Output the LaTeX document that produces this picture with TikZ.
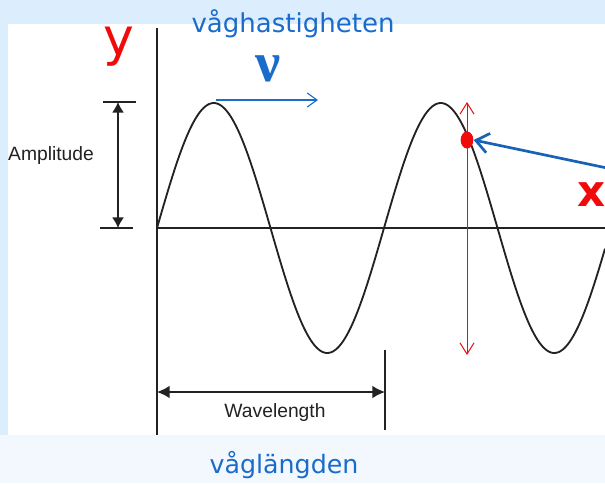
\documentclass[tikz,border=0pt]{standalone}
\usepackage{fontspec}
\setsansfont{Liberation Sans}
\newfontfamily\handfont{DejaVu Sans}
\newfontfamily\greekfont{Liberation Serif}
\usetikzlibrary{arrows.meta, shapes.geometric, calc}
\definecolor{skyblue}{HTML}{DCEEFD}
\definecolor{paleblue}{HTML}{F2F8FE}
\definecolor{penblue}{HTML}{1A6CCB}
\definecolor{penred}{HTML}{F00A0A}
\definecolor{inkgrey}{HTML}{222222}

\begin{document}
\begin{tikzpicture}[x=0.025cm, y=-0.025cm]
        \useasboundingbox (0,0) rectangle (605,483);
        \clip (0,0) rectangle (605,483);
        % slide background and white panel
        \fill[skyblue] (0,0) rectangle (605,483);
        \fill[paleblue] (0,435) rectangle (605,483);
        \fill[white] (8,24) rectangle (605,435);
        % axes
        \draw[color=inkgrey, line width=1.3pt] (157,28) -- (157,435);
        \draw[color=inkgrey, line width=1.5pt] (157,228) -- (605,228);
        % the wave
        \draw[color=inkgrey, line width=1.3pt] plot[domain=157:605, samples=240, smooth]
          (\x, {228-125*sin((\x-157)/227*360)});
        % amplitude marker
        \coordinate (amptop) at (118,102);
        \coordinate (ampbot) at (118,228);
        \draw[color=inkgrey, line width=1pt] (103,102) -- (136,102);
        \draw[color=inkgrey, line width=1pt] (100,228) -- (133,228);
        \draw[{Latex[length=7.5pt, width=8.5pt]}-{Latex[length=7.5pt, width=8.5pt]}, color=inkgrey, line width=1.1pt]
          (amptop) -- (ampbot);
        \node[color=inkgrey, font=\sffamily\fontsize{13.7}{15}\selectfont] (amp) at (51,156) {Amplitude};
        % wavelength marker
        \coordinate (wlleft) at (157,392);
        \coordinate (wlright) at (385,392);
        \draw[color=inkgrey, line width=1.3pt] (385,350) -- (385,430);
        \draw[{Latex[length=9pt, width=9pt]}-{Latex[length=9pt, width=9pt]}, color=inkgrey, line width=1.1pt]
          (wlleft) -- (wlright);
        \node[color=inkgrey, font=\sffamily\fontsize{13.7}{15}\selectfont] (wl) at (275,413) {Wavelength};
        % labels in blue and red
        \node[color=penblue, font=\handfont\fontsize{18.5}{20}\selectfont] (speed) at (293,24) {våghastigheten};
        \node[color=penblue, font=\handfont\fontsize{18}{20}\selectfont] (length) at (284,465) {våglängden};
        \node[color=penblue, inner sep=0pt, font=\greekfont\bfseries\fontsize{40}{40}\selectfont] (nu) at (268,69) {ν};
        \coordinate (vstart) at (216,100);
        \coordinate (vend) at (318,100);
        \draw[-{Straight Barb[length=7pt, width=10pt]}, color=penblue, line width=0.8pt] (vstart) -- (vend);
        \node[color=penred, inner sep=0pt, font=\handfont\fontsize{37}{37}\selectfont] (ylab) at (119,47) {y};
        \node[color=penred, inner sep=0pt, font=\handfont\bfseries\fontsize{31}{31}\selectfont] (xlab) at (592,195) {x};
        % moving point on the wave
        \coordinate (swtop) at (467,102);
        \coordinate (swbot) at (467,355);
        \draw[{Straight Barb[length=8pt, width=10pt]}-{Straight Barb[length=8pt, width=10pt]}, color=penred, line width=0.7pt]
          (swtop) -- (swbot);
        \node[fill=penred, ellipse, minimum width=0.3175cm, minimum height=0.425cm, inner sep=0pt] (dot) at (467,140) {};
        \coordinate (pointer) at (607,168);
        \draw[-{Straight Barb[length=9pt, width=14pt]}, color=penblue!90!black, line width=1.9pt] (pointer) -- (dot.east);
      \end{tikzpicture}
\end{document}
